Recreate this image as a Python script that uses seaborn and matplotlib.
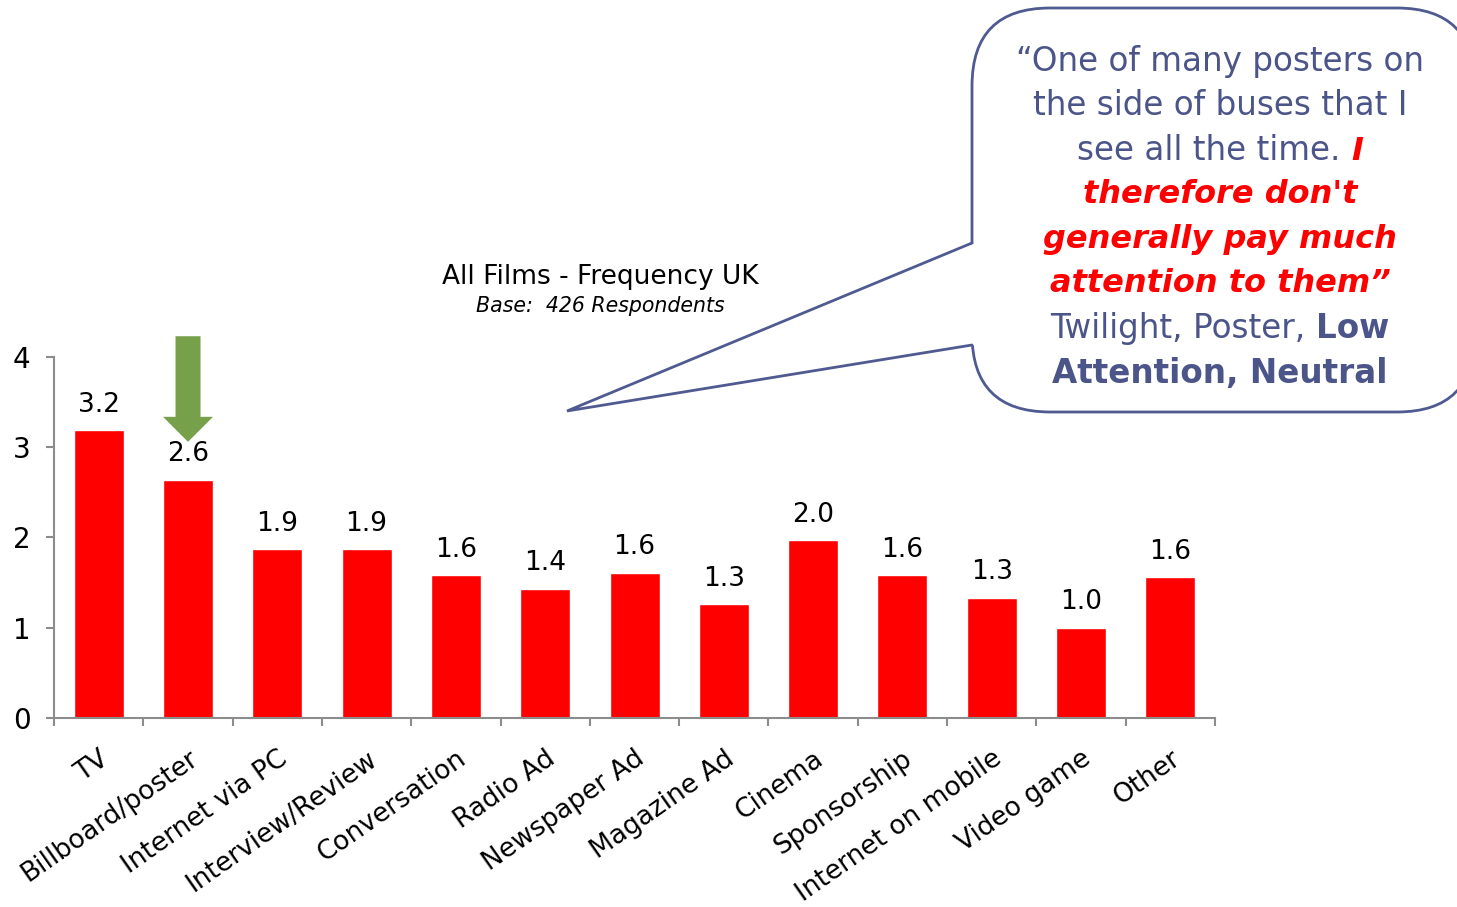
import matplotlib
matplotlib.use("Agg")
import matplotlib.pyplot as plt
from matplotlib.patches import FancyBboxPatch, Polygon
from matplotlib.lines import Line2D
from matplotlib.offsetbox import TextArea, HPacker, AnnotationBbox
import seaborn as sns

# Survey data: average frequency of seeing film advertising, by channel
categories = ["TV", "Billboard/poster", "Internet via PC", "Interview/Review",
              "Conversation", "Radio Ad", "Newspaper Ad", "Magazine Ad",
              "Cinema", "Sponsorship", "Internet on mobile", "Video game", "Other"]
values = [3.19, 2.64, 1.87, 1.87, 1.58, 1.43, 1.61, 1.26, 1.97, 1.58, 1.33, 1.00, 1.56]
y_ticks = [0, 1, 2, 3, 4]

title = "All Films - Frequency UK"
subtitle = "Base:  426 Respondents"

BAR_RED = "#FF0000"
ARROW_GREEN = "#76A04A"
QUOTE_BLUE = "#4B5589"
BORDER_BLUE = "#4F5A91"
SPINE_GREY = "#8C8C8C"

sns.set_style("white")
plt.rcParams["font.family"] = ["DejaVu Sans"]
plt.rcParams["text.color"] = "black"
plt.rcParams["xtick.color"] = "black"
plt.rcParams["ytick.color"] = "black"

fig = plt.figure(figsize=(14.57, 9.07), dpi=100)
ax = fig.add_axes([0.0371, 0.2084, 0.7968, 0.3980])

sns.barplot(x=categories, y=values, color=BAR_RED, saturation=1, width=0.56,
            ax=ax, zorder=2)
ax.set_xlim(-0.5, len(categories) - 0.5)
ax.set_ylim(0, 4)
ax.set_xlabel("")
ax.set_ylabel("")

# Value labels above bars
for container in ax.containers:
    ax.bar_label(container, fmt="%.1f", padding=9, fontsize=19, color="black")

# Axes styling
for side in ["top", "right"]:
    ax.spines[side].set_visible(False)
for side in ["left", "bottom"]:
    ax.spines[side].set_color(SPINE_GREY)
    ax.spines[side].set_linewidth(1.5)

ax.set_yticks(y_ticks)
ax.tick_params(axis="y", which="major", direction="out", length=6, width=1.5,
               color=SPINE_GREY, labelcolor="black", labelsize=20, pad=11,
               left=True)
ax.set_xticks(range(len(categories)))
ax.set_xticks([i - 0.5 for i in range(len(categories) + 1)], minor=True)
ax.tick_params(axis="x", which="major", length=0, pad=20, labelsize=19,
               labelcolor="black")
ax.tick_params(axis="x", which="minor", direction="out", length=6, width=1.5,
               color=SPINE_GREY, bottom=True)
for lbl in ax.get_xticklabels():
    lbl.set_rotation(35)
    lbl.set_ha("right")
    lbl.set_rotation_mode("anchor")

# Chart title
fig.text(600 / 1457, 1 - 277 / 907, title, ha="center", va="center",
         fontsize=19, color="black")
fig.text(600 / 1457, 1 - 306 / 907, subtitle, ha="center", va="center",
         fontsize=14.8, style="italic", color="black")

# Green arrow pointing at the billboard bar
hl = 25 / 90.25
tip = values[1] + 0.42
top = 4.23
ax.arrow(1, top, 0, tip - top, width=0.28, head_width=0.56, head_length=hl,
         length_includes_head=True, color=ARROW_GREEN, clip_on=False, zorder=4,
         linewidth=0)

# Speech bubble (drawn in inches from the figure's bottom-left corner)
tr = fig.dpi_scale_trans
bx0, bx1, by0, by1 = 9.72, 14.75, 4.95, 8.99
bubble = FancyBboxPatch((bx0, by0), bx1 - bx0, by1 - by0,
                        boxstyle="round,pad=0,rounding_size=0.78",
                        transform=tr, facecolor="white", edgecolor=BORDER_BLUE,
                        linewidth=2, clip_on=False, zorder=5)
fig.patches.append(bubble)
tip_pt = (5.67, 4.96)
upper = (bx0, 6.64)
lower = (bx0, 5.62)
cover = Polygon([(bx0 + 0.03, upper[1]), tip_pt, (bx0 + 0.03, lower[1])],
                closed=True, transform=tr, facecolor="white", edgecolor="none",
                zorder=6)
fig.patches.append(cover)
fig.lines.append(Line2D([upper[0], tip_pt[0], lower[0]],
                        [upper[1], tip_pt[1], lower[1]], transform=tr,
                        color=BORDER_BLUE, linewidth=2, zorder=7,
                        solid_joinstyle="miter"))

# Quote text, line by line with mixed styles
fs = 23.5
plain = dict(color=QUOTE_BLUE, fontsize=fs)
plain_bold = dict(color=QUOTE_BLUE, fontsize=fs, fontweight="bold")
red_emph = dict(color="#FF0000", fontsize=fs - 0.5, fontweight="bold",
                fontstyle="italic")
quote_lines = [
    [("\u201cOne of many posters on", plain)],
    [("the side of buses that I", plain)],
    [("see all the time.", plain), ("I", red_emph)],
    [("therefore don't", red_emph)],
    [("generally pay much", red_emph)],
    [("attention to them\u201d", red_emph)],
    [("Twilight, Poster,", plain), ("Low", plain_bold)],
    [("Attention, Neutral", plain_bold)],
]
cx = 1220 / 1457
y_first, step = 61, 44.6
space = 0.318 * fs
for i, parts in enumerate(quote_lines):
    boxes = [TextArea(s, textprops=p) for s, p in parts]
    row = HPacker(children=boxes, align="baseline", pad=0, sep=space)
    ab = AnnotationBbox(row, (cx, 1 - (y_first + i * step) / 907),
                        xycoords="figure fraction", box_alignment=(0.5, 0.5),
                        frameon=False, pad=0, zorder=8)
    fig.add_artist(ab)

fig.savefig("out.png", dpi=100)
